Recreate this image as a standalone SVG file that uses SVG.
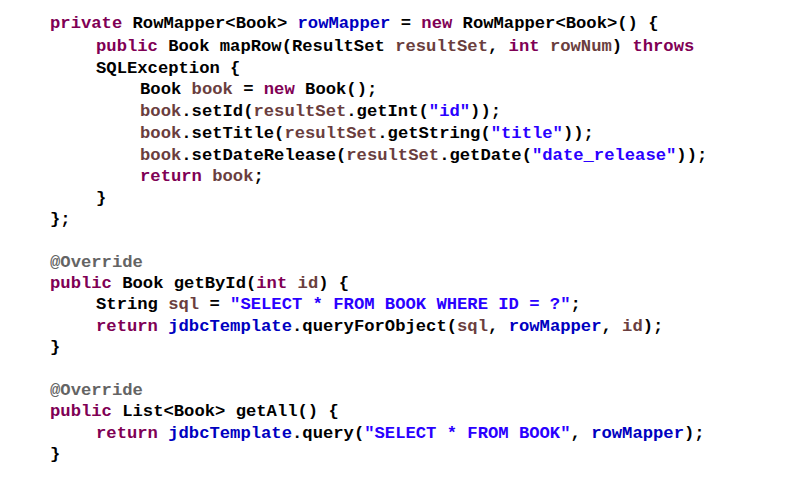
<svg xmlns="http://www.w3.org/2000/svg" width="801" height="500" viewBox="0 0 801 500">
<style>
text{font-family:"Liberation Mono","DejaVu Sans Mono",monospace;font-size:17.2px;font-weight:bold;fill:#000;white-space:pre}
.k{fill:#7f0055}.f{fill:#0000c0}.v{fill:#6a3e3e}.s{fill:#2a00ff}.a{fill:#646464}
</style>
<rect width="801" height="500" fill="#fff"/>
<g id="code">
<text x="50" y="28" xml:space="preserve"><tspan class="k">private</tspan> RowMapper&lt;Book&gt; <tspan class="f">rowMapper</tspan> = <tspan class="k">new</tspan> RowMapper&lt;Book&gt;() {</text>
<text x="96" y="51" xml:space="preserve"><tspan class="k">public</tspan> Book mapRow(ResultSet <tspan class="v">resultSet</tspan>, <tspan class="k">int</tspan> <tspan class="v">rowNum</tspan>) <tspan class="k">throws</tspan></text>
<text x="96" y="73" xml:space="preserve">SQLException {</text>
<text x="140" y="94" xml:space="preserve">Book <tspan class="v">book</tspan> = <tspan class="k">new</tspan> Book();</text>
<text x="140" y="116" xml:space="preserve"><tspan class="v">book</tspan>.setId(<tspan class="v">resultSet</tspan>.getInt(<tspan class="s">"id"</tspan>));</text>
<text x="140" y="138" xml:space="preserve"><tspan class="v">book</tspan>.setTitle(<tspan class="v">resultSet</tspan>.getString(<tspan class="s">"title"</tspan>));</text>
<text x="140" y="160" xml:space="preserve"><tspan class="v">book</tspan>.setDateRelease(<tspan class="v">resultSet</tspan>.getDate(<tspan class="s">"date_release"</tspan>));</text>
<text x="140" y="181" xml:space="preserve"><tspan class="k">return</tspan> <tspan class="v">book</tspan>;</text>
<text x="96" y="203" xml:space="preserve">}</text>
<text x="50" y="224" xml:space="preserve">};</text>
<text x="50" y="267" xml:space="preserve"><tspan class="a">@Override</tspan></text>
<text x="50" y="288" xml:space="preserve"><tspan class="k">public</tspan> Book getById(<tspan class="k">int</tspan> <tspan class="v">id</tspan>) {</text>
<text x="96" y="309" xml:space="preserve">String <tspan class="v">sql</tspan> = <tspan class="s">"SELECT * FROM BOOK WHERE ID = ?"</tspan>;</text>
<text x="96" y="331" xml:space="preserve"><tspan class="k">return</tspan> <tspan class="f">jdbcTemplate</tspan>.queryForObject(<tspan class="v">sql</tspan>, <tspan class="f">rowMapper</tspan>, <tspan class="v">id</tspan>);</text>
<text x="50" y="352" xml:space="preserve">}</text>
<text x="50" y="395" xml:space="preserve"><tspan class="a">@Override</tspan></text>
<text x="50" y="416" xml:space="preserve"><tspan class="k">public</tspan> List&lt;Book&gt; getAll() {</text>
<text x="96" y="438" xml:space="preserve"><tspan class="k">return</tspan> <tspan class="f">jdbcTemplate</tspan>.query(<tspan class="s">"SELECT * FROM BOOK"</tspan>, <tspan class="f">rowMapper</tspan>);</text>
<text x="50" y="459" xml:space="preserve">}</text>
</g>
</svg>
